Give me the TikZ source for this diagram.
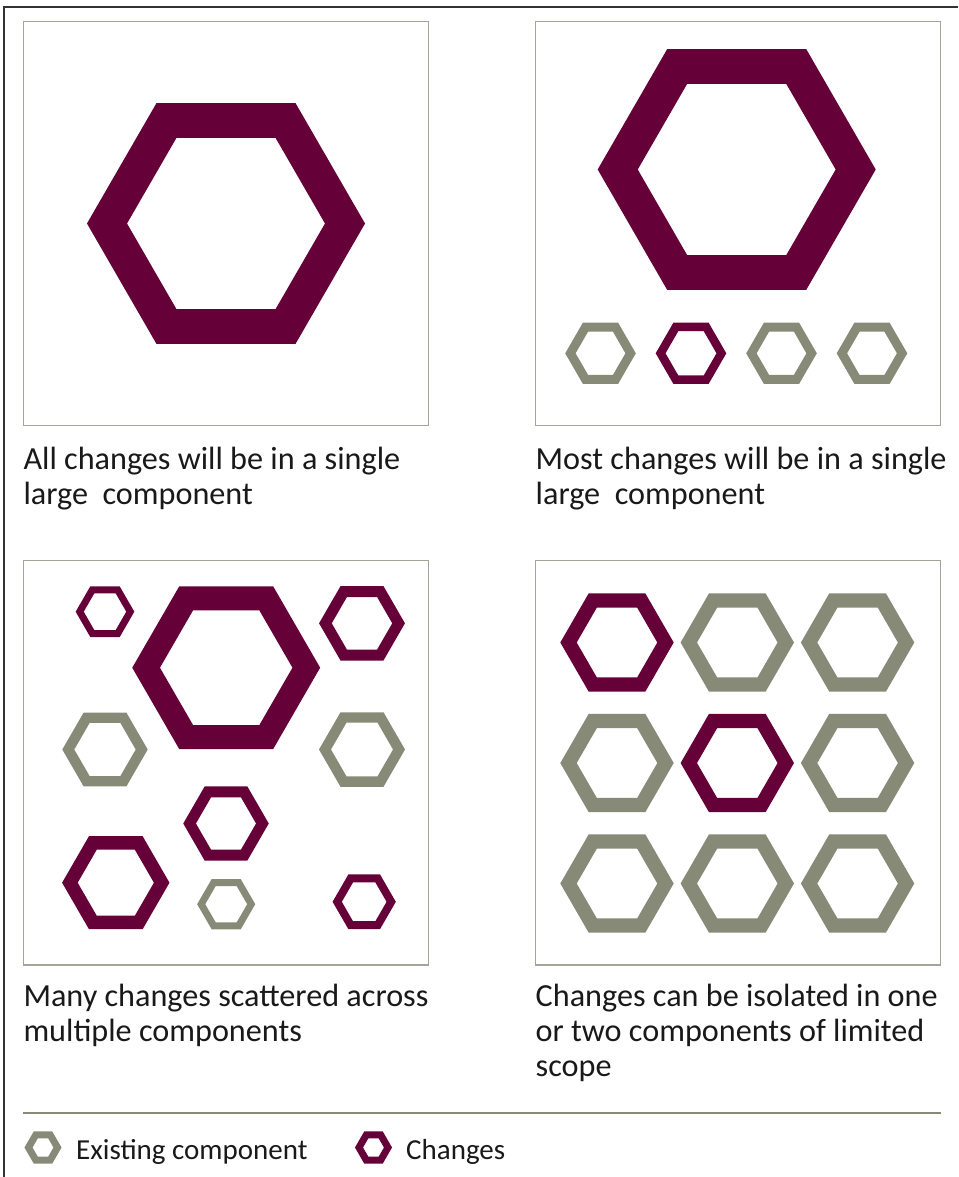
\documentclass[tikz,border=0pt]{standalone}
\usepackage{fontspec}
\setmainfont{Carlito}
\usepackage{tikz}
\usetikzlibrary{positioning}

\definecolor{chg}{HTML}{660038}
\definecolor{exist}{HTML}{888A78}
\definecolor{boxline}{HTML}{A3A596}
\definecolor{frameline}{HTML}{333333}

\begin{document}
\begin{tikzpicture}
	[x=1pt,y=-1pt,
	panel/.style={draw=boxline,line width=1.5pt},
	hexchg/.style={draw=chg,line join=miter},
	hexold/.style={draw=exist,line join=miter},
	caption/.style={anchor=base west,inner sep=0pt,text=black!90,
		font=\fontsize{32.2}{35}\selectfont},
	legend/.style={anchor=base west,inner sep=0pt,text=black!90,
		font=\fontsize{29}{35}\selectfont}]
\useasboundingbox (0,0) rectangle (958,1177);
%outer frame, top and left only
\draw[frameline,line width=1.5pt] (958,7) -- (4,7) -- (4,1177);

%panels
\draw[panel] (23.3,21.7) rectangle (428.3,425.7);
\draw[panel] (535.7,21.7) rectangle (940.7,425.7);
\draw[panel] (23.3,560.7) rectangle (428.3,965);
\draw[panel] (535.7,560.7) rectangle (940.7,965);

%hexagons: center x / center y / radius / width / style
\foreach \cx/\cy/\r/\w/\s in {
	226/223.5/119/34.7/hexchg,
	736.7/169.5/119/34.7/hexchg,
	600.5/353.3/30.1/9/hexold, 691/353.3/30.4/8.5/hexchg,
	781.5/353.3/30.1/9/hexold, 872/353.3/30.1/9/hexold,
	105/611.7/25.3/7/hexchg, 226.2/667.7/80.1/24/hexchg,
	362/623.3/36.6/11/hexchg, 105/749.5/36.7/10.4/hexold,
	362/749.5/37/10.4/hexold, 226/823.5/36.4/11/hexchg,
	115.8/882.7/45.9/13.5/hexchg, 226.2/904.2/25/7/hexold,
	364.2/901.8/27/8/hexchg,
	43/1147.5/14.5/7/hexold, 373.5/1147.5/14.5/7/hexchg}
	\draw[\s,line width=\w pt] (\cx,\cy) +(0:\r) -- +(60:\r) -- +(120:\r)
		-- +(180:\r) -- +(240:\r) -- +(300:\r) -- cycle;

%grid of the fourth panel
\foreach \i in {0,1,2}
	\foreach \j in {0,1,2}{
		\ifnum\i=\j \def\s{hexchg}\else\def\s{hexold}\fi
		\ifnum\i=2 \ifnum\j=2 \def\s{hexold}\fi\fi
		\draw[\s,line width=14.2pt] (617+120.3*\i,642.5+120.5*\j) +(0:48.5)
			-- +(60:48.5) -- +(120:48.5) -- +(180:48.5) -- +(240:48.5)
			-- +(300:48.5) -- cycle;
	}

%captions
\node[caption] (capA1) at (23.3,469.5) {All changes will be in a single};
\node[caption] (capA2) at (23.3,504.5) {large\ \ component};
\node[caption] (capB1) at (535.5,469.5) {Most changes will be in a single};
\node[caption] (capB2) at (535.5,504.5) {large\ \ component};
\node[caption] (capC1) at (23.3,1006) {Many changes scattered across};
\node[caption] (capC2) at (23.3,1041) {multiple components};
\node[caption] (capD1) at (535.5,1006) {Changes can be isolated in one};
\node[caption] (capD2) at (535.5,1041) {or two components of limited};
\node[caption] (capD3) at (535.5,1076) {scope};

%legend
\draw[exist,line width=2pt] (23.3,1112.7) -- (940.7,1112.7);
\node[legend] (legOld) at (76,1159.3) {Existing component};
\node[legend] (legChg) at (406,1159.3) {Changes};
\end{tikzpicture}
\end{document}
